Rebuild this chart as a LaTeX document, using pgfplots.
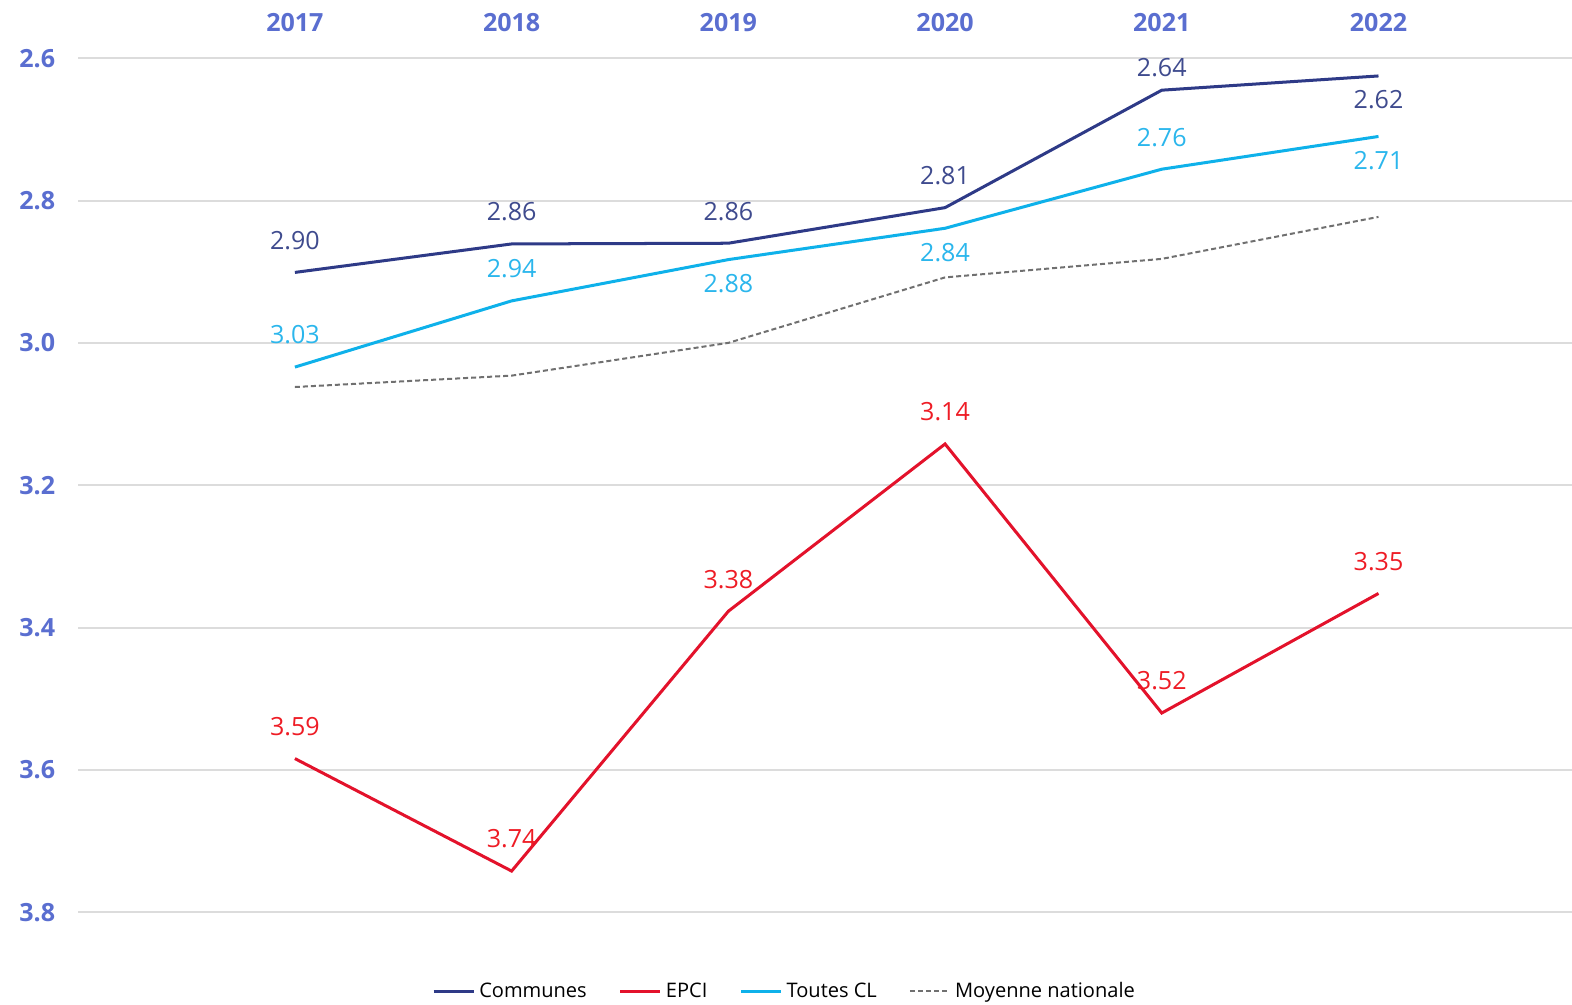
\documentclass[border=0pt]{standalone}
\usepackage{pgfplots}
\pgfplotsset{compat=1.18}
\usepackage{fontspec}
\setmainfont{Open Sans}
\definecolor{tickblue}{HTML}{5A6ED0}
\definecolor{communes}{HTML}{2E3A87}
\definecolor{communeslab}{HTML}{3F4B8E}
\definecolor{toutes}{HTML}{0EB1EA}
\definecolor{toutesLab}{HTML}{2BB6EC}
\definecolor{epci}{HTML}{E3122B}
\definecolor{epcilab}{HTML}{EE1C25}
\definecolor{moy}{HTML}{707070}
\definecolor{gridgray}{HTML}{DCDCDC}
\begin{document}
\begin{tikzpicture}
\useasboundingbox (-39pt,-21pt) rectangle (745pt,480pt);
\begin{pgfinterruptboundingbox}
\begin{axis}[
  scale only axis,
  width=745pt, height=457.5pt,
  anchor=south west, at={(0,0)},
  xmin=2016, xmax=2022.893,
  ymin=2.58169, ymax=3.87042,
  y dir=reverse,
  clip=false,
  axis line style={draw=none},
  major tick length=0pt,
  xtick={2017,2018,2019,2020,2021,2022},
  ytick={2.6,2.8,3.0,3.2,3.4,3.6,3.8},
  xticklabel pos=top,
  ymajorgrids,
  grid style={gridgray, line width=1pt},
  /pgf/number format/assume math mode=true,
  x tick label style={/pgf/number format/1000 sep={}, font=\fontsize{12.5}{14}\selectfont\bfseries, text=tickblue, yshift=3pt},
  y tick label style={/pgf/number format/fixed, /pgf/number format/fixed zerofill, /pgf/number format/precision=1, font=\fontsize{12.5}{14}\selectfont\bfseries, text=tickblue, xshift=-8pt},
  legend style={at={(0.4735,-0.0315)}, anchor=center, draw=none, fill=none, legend columns=4,
    font=\fontsize{10}{12}\selectfont, /tikz/every even column/.append style={column sep=14pt}},
  legend image code/.code={\draw[#1] (0pt,0pt) -- (20pt,0pt);},
]
\addplot[communes, line width=1.5pt] coordinates {(2017,2.901) (2018,2.861) (2019,2.860) (2020,2.810) (2021,2.645) (2022,2.625)};
\addlegendentry{Communes}
\addplot[epci, line width=1.5pt] coordinates {(2017,3.584) (2018,3.742) (2019,3.377) (2020,3.142) (2021,3.520) (2022,3.352)};
\addlegendentry{EPCI}
\addplot[toutes, line width=1.5pt] coordinates {(2017,3.034) (2018,2.941) (2019,2.883) (2020,2.839) (2021,2.756) (2022,2.710)};
\addlegendentry{Toutes CL}
\addplot[moy, line width=1pt, dash pattern=on 2.5pt off 1.5pt] coordinates {(2017,3.062) (2018,3.046) (2019,3.000) (2020,2.908) (2021,2.882) (2022,2.823)};
\addlegendentry{Moyenne nationale}
% labels
\pgfplotsset{lab/.style={draw=none, mark=none, forget plot, nodes near coords, point meta=explicit symbolic,
  every node near coord/.append style={anchor=center, font=\fontsize{12.5}{14}\selectfont, inner sep=0pt}}}
\addplot[lab, every node near coord/.append style={yshift=16pt, text=communeslab}] coordinates {(2017,2.901)[2.90] (2018,2.861)[2.86] (2019,2.860)[2.86] (2020,2.810)[2.81]};
\addplot[lab, every node near coord/.append style={yshift=11.5pt, text=communeslab}] coordinates {(2021,2.645)[2.64]};
\addplot[lab, every node near coord/.append style={yshift=-12pt, text=communeslab}] coordinates {(2022,2.625)[2.62]};
\addplot[lab, every node near coord/.append style={yshift=16pt, text=toutesLab}] coordinates {(2017,3.034)[3.03] (2018,2.941)[2.94] (2021,2.756)[2.76]};
\addplot[lab, every node near coord/.append style={yshift=-12pt, text=toutesLab}] coordinates {(2019,2.883)[2.88] (2020,2.839)[2.84] (2022,2.710)[2.71]};
\addplot[lab, every node near coord/.append style={yshift=16pt, text=epcilab}] coordinates {(2017,3.584)[3.59] (2018,3.742)[3.74] (2019,3.377)[3.38] (2020,3.142)[3.14] (2021,3.520)[3.52] (2022,3.352)[3.35]};
\end{axis}
\end{pgfinterruptboundingbox}
\end{tikzpicture}
\end{document}
